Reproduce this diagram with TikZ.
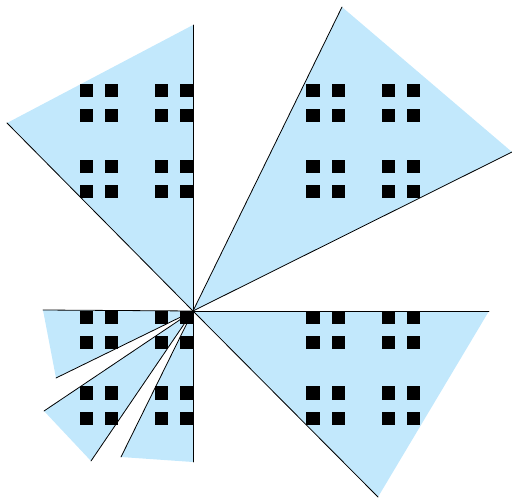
\documentclass[tikz,border=0pt]{standalone}
\definecolor{wedgeblue}{RGB}{194,232,252}
\begin{document}
\begin{tikzpicture}[x=1pt,y=-1pt,
  wedge/.style={fill=wedgeblue},
  edge/.style={draw=black,line width=0.8pt,line cap=round},
  dot/.style={fill=black}]
\useasboundingbox (0,0) rectangle (512,498);
\coordinate (O) at (193,311);
\foreach \ax/\ay/\bx/\by in {7/123/193/25, 342/7/512/152, 489/311/378/497,
  43/310/56/378, 44/411/91/461, 121/457/193/462}{
  \coordinate (A) at (\ax,\ay);
  \coordinate (B) at (\bx,\by);
  \fill[wedge] (O) -- (A) -- (B) -- cycle;
  \draw[edge] (O) -- (A);
  \draw[edge] (O) -- (B);
}
\foreach \i in {0,2,6,8,18,20,24,26}{
  \foreach \j in {0,2,6,8,18,20,24,26}{
    \fill[dot] ({79.5+12.6*\i},{84+12.6*\j}) rectangle ++(13.2,13.2);
  }
}
\end{tikzpicture}
\end{document}
